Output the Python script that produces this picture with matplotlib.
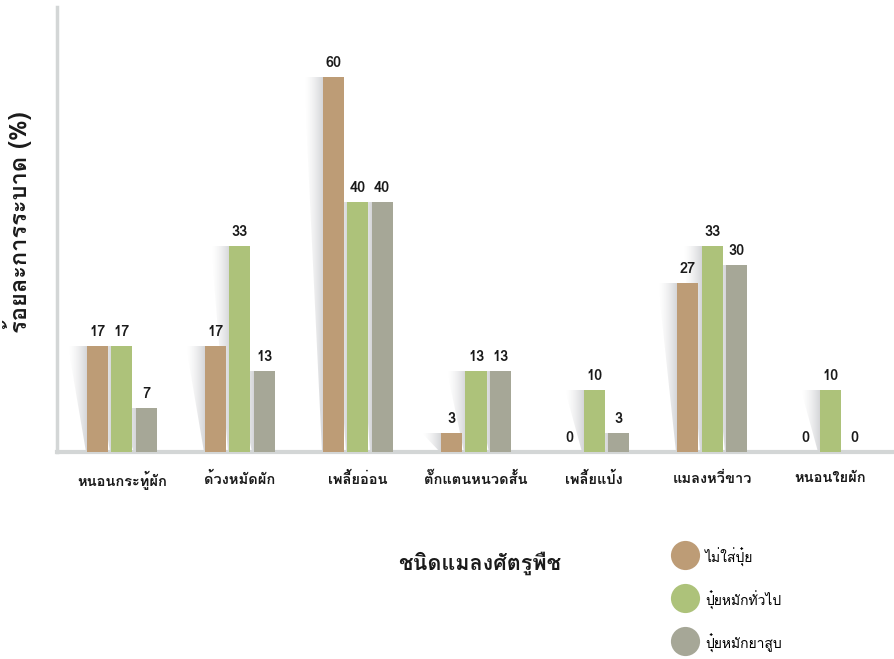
import numpy as np
import matplotlib
matplotlib.use("Agg")
import matplotlib.pyplot as plt
import matplotlib.font_manager as fm
from matplotlib.ft2font import FT2Font
from matplotlib.lines import Line2D
from matplotlib.patches import Polygon

# ---------------- data ----------------
categories = ["หนอนกระทู้ผัก", "ด้วงหมัดผัก", "เพลี้ยอ่อน", "ตั๊กแตนหนวดสั้น",
              "เพลี้ยแป้ง", "แมลงหวี่ขาว", "หนอนใยผัก"]
series_names = ["ไม่ใส่ปุ๋ย", "ปุ๋ยหมักทั่วไป", "ปุ๋ยหมักยาสูบ"]
no_fert = [17, 17, 60, 3, 0, 27, 0]
general_compost = [17, 33, 40, 13, 10, 33, 10]
tobacco_compost = [7, 13, 40, 13, 3, 30, 0]
y_title = "ร้อยละการระบาด (%)"
x_title = "ชนิดแมลงศัตรูพืช"

# ---------------- fonts ----------------
thai = []
for f in fm.fontManager.ttflist:
    try:
        if 0x0E01 in FT2Font(f.fname).get_charmap():
            if f.name not in thai:
                thai.append(f.name)
    except Exception:
        pass
families = thai[:1] + ["DejaVu Sans"]
plt.rcParams["font.family"] = families

colors = ["#BD9C76", "#ADC27A", "#A6A797"]
series = [no_fert, general_compost, tobacco_compost]

fig = plt.figure(figsize=(8.95, 6.59), dpi=100)
ax = fig.add_axes([57 / 895, 1 - 452 / 659, 1 - 57 / 895, 445 / 659])

x = np.arange(len(categories))
width = 0.178
step = 0.205

shadow_rgba = np.zeros((1, 64, 4))
shadow_rgba[..., 0] = 0.45
shadow_rgba[..., 1] = 0.46
shadow_rgba[..., 2] = 0.50
shadow_rgba[0, :, 3] = np.linspace(0, 0.45, 64) ** 1.5

for i, (vals, c) in enumerate(zip(series, colors)):
    xs = x + (i - 1) * step
    bars = ax.bar(xs, vals, width=width, color=c, zorder=3)
    for b, v in zip(bars, vals):
        x0 = b.get_x()
        h = b.get_height()
        if h > 0:
            sw = 0.16
            poly = Polygon([(x0 - sw, h), (x0, h), (x0, 0), (x0 - 0.01, 0)],
                           closed=True, transform=ax.transData, facecolor="none",
                           edgecolor="none")
            ax.add_patch(poly)
            im = ax.imshow(shadow_rgba, extent=[x0 - sw, x0, 0, h], aspect="auto",
                           zorder=2, interpolation="bilinear")
            im.set_clip_path(poly)
        ax.annotate(f"{v}", (b.get_x() + b.get_width() / 2, h),
                    xytext=(0, 10), textcoords="offset points",
                    ha="center", va="center", fontsize=10.5, fontweight="bold",
                    color="#1a1a1a", zorder=5)

ax.set_xlim(-0.55, 6.55)
ax.set_ylim(0, 71.2)
ax.set_xticks(x)
ax.set_xticklabels(categories, fontsize=10.5, fontweight="bold", color="#1a1a1a")
ax.tick_params(axis="x", length=0, pad=14)
ax.set_yticks([])
for s in ["top", "right"]:
    ax.spines[s].set_visible(False)
ax.spines["left"].set_color("#D3D6D6")
ax.spines["left"].set_linewidth(2.5)
ax.spines["bottom"].set_color("#D3D6D6")
ax.spines["bottom"].set_linewidth(3)

fig.text(18 / 895, 1 - 222 / 659, y_title, rotation=90, ha="center", va="center",
         fontsize=17, fontweight="bold", color="#1a1a1a")
fig.text(480 / 895, 1 - 563 / 659, x_title, ha="center", va="center",
         fontsize=15.5, fontweight="bold", color="#1a1a1a")

handles = [Line2D([], [], linestyle="none", marker="o", markersize=21,
                  markerfacecolor=c, markeredgecolor="none") for c in colors]
fig.legend(handles, series_names, loc="center left",
           bbox_to_anchor=(663 / 895, 1 - 601 / 659), frameon=False,
           fontsize=10, borderpad=0, handleheight=2, labelspacing=1.55,
           handletextpad=0.35, handlelength=2.2)

fig.savefig("out.png", dpi=100)
